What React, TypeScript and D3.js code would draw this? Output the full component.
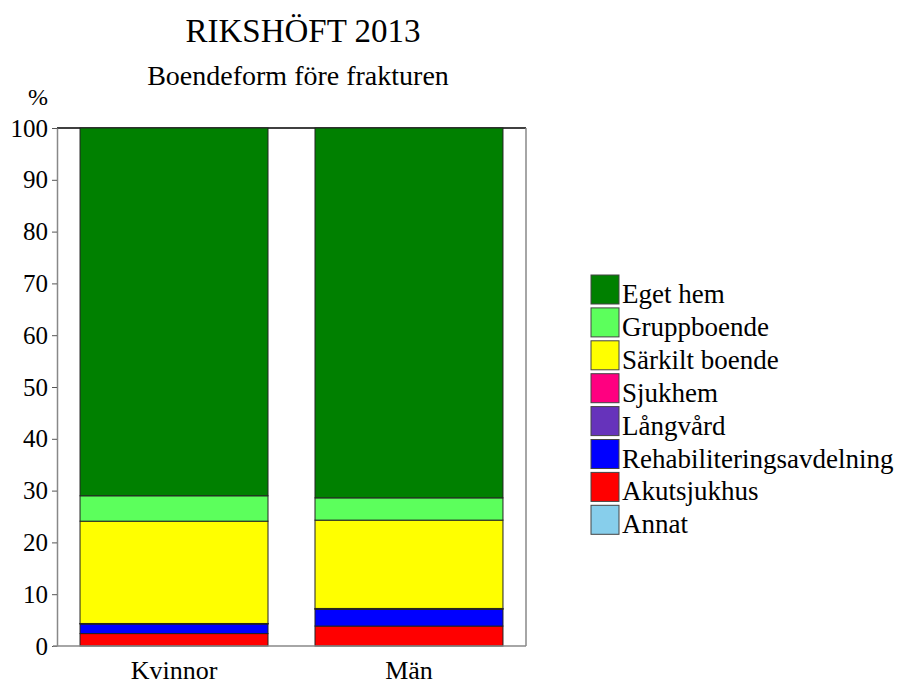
import React, { useEffect, useRef } from "react";
import * as d3 from "d3";

const categories = ["Kvinnor", "Män"];
const seriesNames = [
  "Annat",
  "Akutsjukhus",
  "Rehabiliteringsavdelning",
  "Långvård",
  "Sjukhem",
  "Särkilt boende",
  "Gruppboende",
  "Eget hem",
];
const seriesColors = [
  "#87CEEB",
  "#FF0000",
  "#0000FF",
  "#6633BB",
  "#FF0080",
  "#FFFF00",
  "#5CFF5C",
  "#008000",
];
// values per category, same order as seriesNames
const kvinnorValues = [0, 2.4, 1.85, 0.05, 0.05, 19.75, 4.9, 71.0];
const manValues = [0, 3.85, 3.25, 0.05, 0.1, 17.05, 4.3, 71.4];
const yTicks = [0, 10, 20, 30, 40, 50, 60, 70, 80, 90, 100];

const font = "'Liberation Serif', 'Times New Roman', serif";

const App: React.FC = () => {
  const svgRef = useRef<SVGSVGElement | null>(null);

  useEffect(() => {
    if (!svgRef.current) return;
    const plot = { left: 57, right: 526, top: 128, bottom: 646 };

    const svg = d3.select(svgRef.current);
    svg.selectAll("*").remove();

    const rows = categories.map((c, i) => {
      const vals = i === 0 ? kvinnorValues : manValues;
      const row: Record<string, any> = { category: c };
      seriesNames.forEach((s, j) => (row[s] = vals[j]));
      return row;
    });

    const stacked = d3.stack<Record<string, any>>().keys(seriesNames)(rows);

    const x = d3
      .scaleBand()
      .domain(categories)
      .range([plot.left, plot.right])
      .paddingInner(0.2)
      .paddingOuter(0.098);

    const y = d3.scaleLinear().domain([0, 100]).range([plot.bottom, plot.top]);

    // Title
    svg
      .append("text")
      .attr("x", 303)
      .attr("y", 42)
      .attr("text-anchor", "middle")
      .style("font-family", font)
      .attr("font-size", 33)
      .text("RIKSHÖFT 2013");

    svg
      .append("text")
      .attr("x", 298)
      .attr("y", 85)
      .attr("text-anchor", "middle")
      .style("font-family", font)
      .attr("font-size", 28)
      .text("Boendeform före frakturen");

    svg
      .append("text")
      .attr("x", 38)
      .attr("y", 105)
      .attr("text-anchor", "middle")
      .style("font-family", font)
      .attr("font-size", 24)
      .text("%");

    // frame
    svg
      .append("line")
      .attr("x1", plot.left)
      .attr("x2", plot.right)
      .attr("y1", plot.top)
      .attr("y2", plot.top)
      .attr("stroke", "#000")
      .attr("stroke-width", 1.5);
    svg
      .append("line")
      .attr("x1", plot.right)
      .attr("x2", plot.right)
      .attr("y1", plot.top)
      .attr("y2", plot.bottom)
      .attr("stroke", "#888")
      .attr("stroke-width", 1.5);

    // bars
    svg
      .append("g")
      .selectAll("g")
      .data(stacked)
      .join("g")
      .attr("fill", (_d, i) => seriesColors[i])
      .selectAll("rect")
      .data((d) => d)
      .join("rect")
      .attr("x", (d) => x(d.data.category as string) || 0)
      .attr("width", x.bandwidth())
      .attr("y", (d) => y(d[1]))
      .attr("height", (d) => y(d[0]) - y(d[1]))
      .attr("stroke", "#222")
      .attr("stroke-width", (d) => (d[1] - d[0] > 0.01 ? 1 : 0));

    // y axis
    const yAxis = svg
      .append("g")
      .attr("transform", `translate(${plot.left},0)`)
      .call(d3.axisLeft(y).tickValues(yTicks).tickSize(5).tickPadding(4).tickSizeOuter(0));
    yAxis.attr("font-family", font);
    yAxis.select(".domain").attr("stroke", "#888").attr("stroke-width", 1.5);
    yAxis.selectAll(".tick line").attr("stroke", "#555");
    yAxis
      .selectAll("text")
      .style("font-family", font)
      .attr("font-size", 25)
      .attr("fill", "#000");

    // x axis baseline
    svg
      .append("line")
      .attr("x1", plot.left - 4)
      .attr("x2", plot.right)
      .attr("y1", plot.bottom)
      .attr("y2", plot.bottom)
      .attr("stroke", "#888")
      .attr("stroke-width", 1.5);

    svg
      .append("g")
      .selectAll("text")
      .data(categories)
      .join("text")
      .attr("x", (d) => (x(d) || 0) + x.bandwidth() / 2)
      .attr("y", 679)
      .attr("text-anchor", "middle")
      .style("font-family", font)
      .attr("font-size", 26)
      .text((d) => d);

    // legend (top to bottom = stack top to bottom)
    const legendItems = seriesNames
      .map((s, i) => ({ name: s, color: seriesColors[i] }))
      .reverse();
    const legend = svg.append("g").attr("transform", "translate(591,275)");
    const rowsG = legend
      .selectAll("g")
      .data(legendItems)
      .join("g")
      .attr("transform", (_d, i) => `translate(0,${i * 32.9})`);
    rowsG
      .append("rect")
      .attr("width", 28)
      .attr("height", 29)
      .attr("fill", (d) => d.color)
      .attr("stroke", "#444")
      .attr("stroke-width", 1);
    rowsG
      .append("text")
      .attr("x", 31)
      .attr("y", 28)
      .style("font-family", font)
      .attr("font-size", 27)
      .text((d) => d.name);
  }, []);

  return (
    <svg
      ref={svgRef}
      width={898}
      height={684}
      style={{ position: "absolute", left: 0, top: 0, background: "#fff", fontFamily: font }}
    ></svg>
  );
};

export default App;
